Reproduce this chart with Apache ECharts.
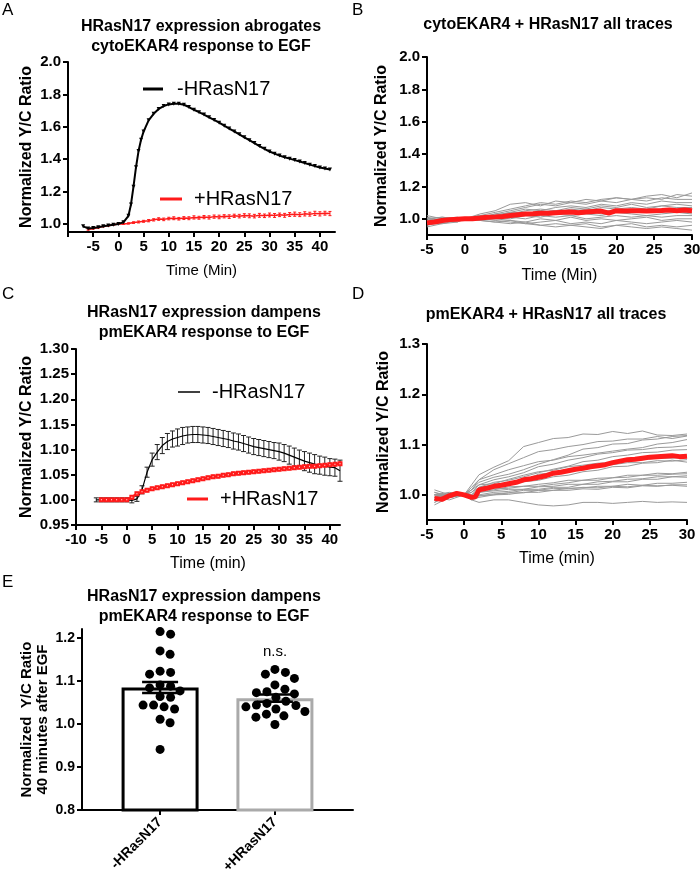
<!DOCTYPE html>
<html>
<head>
<meta charset="utf-8">
<script src="https://cdn.jsdelivr.net/npm/echarts@6/dist/echarts.min.js"></script>
<style>
  html, body { margin: 0; padding: 0; background: #fff; }
  #chart { width: 700px; height: 872px; }
</style>
</head>
<body>
<div id="chart"></div>
<script>
// ---- Panel A: cytoEKAR4 mean traces ----
const timeA_minus = [-7,-6,-5,-4,-3,-2,-1,0,1,2,2.5,3,3.5,4,4.5,5,6,7,8,9,10,11,12,13,14,15,16,17,18,19,20,21,22,23,24,25,26,27,28,29,30,31,32,33,34,35,36,37,38,39,40,41,42];
const ratioA_minus = [0.985,0.972,0.975,0.98,0.985,0.99,0.995,1.0,1.01,1.05,1.12,1.23,1.35,1.45,1.52,1.57,1.64,1.68,1.71,1.728,1.738,1.742,1.742,1.736,1.722,1.705,1.69,1.675,1.658,1.642,1.625,1.607,1.589,1.571,1.553,1.535,1.517,1.499,1.481,1.464,1.447,1.434,1.422,1.412,1.403,1.394,1.385,1.376,1.366,1.357,1.348,1.342,1.336];
const timeA_plus = [-6,-5,-4,-3,-2,-1,0,1,2,3,4,5,6,7,8,9,10,11,12,13,14,15,16,17,18,19,20,21,22,23,24,25,26,27,28,29,30,31,32,33,34,35,36,37,38,39,40,41,42];
const ratioA_plus = [0.965,0.972,0.978,0.985,0.99,0.995,1.0,1.0,1.003,1.008,1.012,1.016,1.02,1.025,1.03,1.028,1.033,1.035,1.032,1.036,1.035,1.04,1.038,1.042,1.04,1.045,1.043,1.047,1.045,1.05,1.048,1.052,1.05,1.048,1.053,1.05,1.055,1.052,1.056,1.053,1.058,1.06,1.057,1.062,1.06,1.065,1.062,1.066,1.064];
const semA_plus = [0.004,0.005,0.005,0.004,0.004,0.003,0.002,0.003,0.004,0.005,0.006,0.006,0.007,0.007,0.008,0.008,0.008,0.009,0.008,0.009,0.009,0.01,0.009,0.01,0.01,0.01,0.011,0.01,0.011,0.01,0.011,0.011,0.012,0.011,0.012,0.011,0.012,0.012,0.011,0.012,0.012,0.013,0.012,0.013,0.012,0.013,0.013,0.012,0.013];

// ---- Panel B: cytoEKAR4 + HRasN17 single cells ----
const timeB = [-5,-3,-1,0,2,4,6,8,10,12,14,16,18,20,22,24,26,28,30];
const tracesB = [
  [1.0,1.01,1.0,1.0,1.02,1.04,1.06,1.08,1.10,1.09,1.11,1.10,1.12,1.13,1.12,1.14,1.15,1.13,1.16],
  [0.99,1.0,1.01,1.0,1.03,1.05,1.09,1.10,1.08,1.11,1.10,1.12,1.11,1.13,1.12,1.13,1.12,1.15,1.14],
  [1.02,1.0,1.0,1.0,1.01,1.03,1.05,1.07,1.09,1.08,1.10,1.09,1.11,1.10,1.12,1.11,1.13,1.12,1.12],
  [0.97,0.99,1.0,1.0,1.02,1.02,1.04,1.06,1.05,1.07,1.08,1.07,1.09,1.08,1.10,1.09,1.11,1.10,1.10],
  [0.98,1.0,0.99,1.0,1.0,1.03,1.03,1.05,1.06,1.05,1.07,1.06,1.08,1.07,1.09,1.07,1.08,1.09,1.08],
  [1.01,0.99,1.0,1.0,1.01,1.02,1.04,1.03,1.05,1.04,1.06,1.05,1.07,1.06,1.07,1.06,1.08,1.07,1.07],
  [0.96,0.98,0.99,1.0,1.0,1.01,1.03,1.04,1.03,1.05,1.04,1.06,1.05,1.05,1.06,1.05,1.06,1.06,1.05],
  [0.99,1.0,1.0,1.0,1.02,1.01,1.02,1.03,1.04,1.03,1.04,1.05,1.03,1.04,1.05,1.04,1.05,1.04,1.04],
  [1.0,0.98,1.0,1.0,1.0,1.01,1.0,1.02,1.01,1.03,1.02,1.03,1.02,1.04,1.03,1.02,1.03,1.04,1.03],
  [0.97,0.99,0.98,1.0,1.01,1.0,1.01,1.0,1.02,1.01,1.02,1.0,1.01,1.02,1.01,1.02,1.01,1.02,1.02],
  [0.98,0.97,0.99,1.0,0.99,1.0,0.99,0.98,1.0,0.99,1.01,0.99,1.0,0.99,1.0,1.01,0.99,1.0,1.0],
  [0.95,0.97,0.98,1.0,0.99,0.98,0.99,0.97,0.98,0.99,0.97,0.98,0.97,0.99,0.98,0.97,0.98,0.99,0.98],
  [1.0,1.01,1.0,1.0,0.99,0.98,0.97,0.98,0.96,0.97,0.96,0.97,0.95,0.96,0.97,0.95,0.96,0.95,0.96],
  [0.99,0.98,0.99,1.0,1.0,0.99,0.98,0.97,0.96,0.95,0.96,0.95,0.94,0.96,0.95,0.94,0.95,0.94,0.93]
];
const timeB_mean = [-5,-4,-3,-2,-1,0,1,2,3,4,5,6,7,8,9,10,11,12,13,14,15,16,17,18,19,20,21,22,23,24,25,26,27,28,29,30];
const ratioB_mean = [0.975,0.98,0.99,0.995,0.998,1.0,1.0,1.005,1.01,1.012,1.015,1.02,1.025,1.03,1.032,1.035,1.035,1.038,1.04,1.042,1.038,1.042,1.045,1.048,1.035,1.05,1.048,1.05,1.05,1.048,1.05,1.052,1.055,1.05,1.055,1.05];

// ---- Panel C: pmEKAR4 mean traces ----
const timeC_minus = [-6,-5,-4,-3,-2,-1,0,1,2,3,4,5,6,7,8,9,10,11,12,13,14,15,16,17,18,19,20,21,22,23,24,25,26,27,28,29,30,31,32,33,34,35,36,37,38,39,40,41,42];
const ratioC_minus = [1.0,1.0,1.0,1.0,1.0,1.0,1.0,0.999,1.002,1.02,1.055,1.08,1.095,1.108,1.116,1.121,1.124,1.127,1.129,1.13,1.13,1.129,1.128,1.126,1.124,1.122,1.12,1.117,1.115,1.112,1.109,1.106,1.104,1.102,1.1,1.098,1.096,1.093,1.089,1.085,1.081,1.077,1.074,1.071,1.069,1.067,1.065,1.064,1.058];
const semC_minus = [0.004,0.004,0.004,0.004,0.004,0.004,0.004,0.005,0.005,0.008,0.01,0.013,0.015,0.016,0.016,0.016,0.017,0.017,0.016,0.016,0.016,0.016,0.016,0.016,0.016,0.016,0.016,0.016,0.016,0.016,0.016,0.016,0.016,0.016,0.016,0.016,0.017,0.017,0.018,0.018,0.018,0.019,0.019,0.019,0.018,0.018,0.017,0.017,0.021];
const timeC_plus = [-5,-4,-3,-2,-1,0,1,2,3,4,5,6,7,8,9,10,11,12,13,14,15,16,17,18,19,20,21,22,23,24,25,26,27,28,29,30,31,32,33,34,35,36,37,38,39,40,41,42];
const ratioC_plus = [1.0,1.0,1.0,1.0,1.0,1.0,1.005,1.012,1.016,1.019,1.022,1.024,1.026,1.028,1.03,1.032,1.034,1.036,1.038,1.04,1.042,1.044,1.046,1.047,1.049,1.05,1.052,1.053,1.054,1.055,1.056,1.057,1.058,1.059,1.06,1.061,1.062,1.063,1.064,1.065,1.066,1.067,1.067,1.068,1.069,1.07,1.071,1.072];
const semC_plus = [0.002,0.002,0.002,0.002,0.002,0.002,0.003,0.003,0.003,0.003,0.003,0.003,0.003,0.003,0.003,0.003,0.003,0.003,0.003,0.003,0.003,0.003,0.003,0.003,0.003,0.003,0.003,0.003,0.003,0.003,0.003,0.003,0.003,0.003,0.003,0.003,0.003,0.003,0.003,0.003,0.003,0.003,0.003,0.003,0.003,0.003,0.003,0.003];

// ---- Panel D: pmEKAR4 + HRasN17 single cells ----
const timeD = [-4,-2,0,1,2,4,6,8,10,12,14,16,18,20,22,24,26,28,30];
const tracesD = [
  [1.005,0.998,1.0,1.02,1.04,1.055,1.068,1.096,1.104,1.112,1.114,1.121,1.12,1.126,1.122,1.127,1.119,1.118,1.121],
  [0.99,1.003,1.0,1.015,1.03,1.05,1.062,1.074,1.086,1.09,1.096,1.1,1.106,1.107,1.111,1.111,1.116,1.112,1.117],
  [1.0,0.995,1.0,1.01,1.025,1.035,1.041,1.05,1.061,1.07,1.079,1.091,1.094,1.101,1.102,1.109,1.111,1.116,1.118],
  [0.985,1.0,1.0,1.005,1.02,1.03,1.036,1.044,1.056,1.061,1.069,1.074,1.081,1.084,1.089,1.09,1.094,1.095,1.098],
  [1.01,1.0,1.0,1.0,1.015,1.025,1.029,1.036,1.044,1.051,1.057,1.066,1.069,1.076,1.079,1.084,1.085,1.089,1.09],
  [0.995,0.99,1.0,1.01,1.02,1.022,1.031,1.039,1.046,1.049,1.056,1.059,1.063,1.064,1.069,1.07,1.073,1.073,1.075],
  [0.98,0.995,1.0,0.995,1.01,1.015,1.021,1.029,1.041,1.044,1.051,1.054,1.059,1.06,1.064,1.064,1.068,1.067,1.07],
  [1.0,1.005,1.0,1.005,1.015,1.02,1.021,1.026,1.029,1.036,1.039,1.046,1.049,1.056,1.057,1.063,1.064,1.069,1.065],
  [0.99,1.0,1.0,0.995,1.005,1.01,1.016,1.017,1.021,1.024,1.029,1.029,1.033,1.034,1.039,1.039,1.043,1.042,1.045],
  [1.005,0.995,1.0,1.0,1.01,1.012,1.013,1.017,1.017,1.021,1.024,1.029,1.029,1.034,1.035,1.039,1.039,1.041,1.042],
  [0.995,1.003,1.0,0.998,1.005,1.008,1.011,1.011,1.016,1.017,1.021,1.021,1.026,1.027,1.031,1.032,1.036,1.036,1.038],
  [1.0,0.998,1.0,0.997,1.0,1.005,1.007,1.011,1.011,1.015,1.015,1.021,1.021,1.026,1.026,1.031,1.031,1.036,1.035],
  [0.99,1.0,1.0,0.995,0.998,1.0,1.004,1.004,1.009,1.009,1.013,1.014,1.017,1.017,1.021,1.019,1.023,1.023,1.025],
  [1.0,1.002,1.0,0.99,0.995,1.0,1.001,1.005,1.005,1.009,1.009,1.012,1.011,1.015,1.014,1.018,1.017,1.02,1.02],
  [0.995,0.998,1.0,0.995,0.998,1.002,1.004,1.009,1.009,1.013,1.012,1.015,1.014,1.017,1.016,1.019,1.018,1.019,1.017],
  [1.0,0.995,1.0,0.99,0.985,0.99,0.99,0.985,0.98,0.978,0.98,0.985,0.985,0.983,0.985,0.987,0.985,0.986,0.985],
  [0.985,1.0,1.0,1.01,1.03,1.04,1.05,1.058,1.066,1.069,1.076,1.079,1.083,1.087,1.091,1.094,1.101,1.104,1.11]
];
const timeD_mean = [-4,-3,-2,-1,0,1,1.5,2,3,4,5,6,7,8,9,10,11,12,13,14,15,16,17,18,19,20,21,22,23,24,25,26,27,28,29,30];
const ratioD_mean = [0.993,0.991,0.998,1.003,1.0,0.995,0.996,1.01,1.013,1.017,1.019,1.022,1.025,1.03,1.032,1.035,1.038,1.043,1.045,1.048,1.051,1.053,1.056,1.058,1.06,1.064,1.067,1.07,1.071,1.073,1.075,1.076,1.077,1.078,1.076,1.077];

// ---- Panel E: ratio 40 minutes after EGF ----
const groupsE = ['-HRasN17', '+HRasN17'];
const meanE = [1.085, 1.060];
const semE = [0.013, 0.0085];
const cellsE_minus = [1.215,1.209,1.162,1.170,1.120,1.116,1.123,1.088,1.091,1.084,1.077,1.064,1.062,1.044,1.035,1.040,1.044,1.011,1.003,0.941];
const cellsE_plus = [1.127,1.116,1.120,1.106,1.091,1.081,1.073,1.070,1.075,1.062,1.048,1.043,1.053,1.044,1.035,1.029,1.040,1.019,1.016,1.023,0.999];

const FONT = '"Liberation Sans", Arial, sans-serif';
const RED = '#ff1a1a';

function xy(ts, vs) { return ts.map((t, i) => [t, vs[i]]); }
function errData(ts, vs, es) { return ts.map((t, i) => [t, vs[i] - es[i], vs[i] + es[i]]); }

function errItem(capW, color, lw) {
  return function (params, api) {
    const x = api.value(0);
    const a = api.coord([x, api.value(1)]);
    const b = api.coord([x, api.value(2)]);
    const st = { stroke: color, lineWidth: lw };
    return {
      type: 'group',
      children: [
        { type: 'line', shape: { x1: a[0], y1: a[1], x2: b[0], y2: b[1] }, style: st },
        { type: 'line', shape: { x1: a[0] - capW / 2, y1: a[1], x2: a[0] + capW / 2, y2: a[1] }, style: st },
        { type: 'line', shape: { x1: b[0] - capW / 2, y1: b[1], x2: b[0] + capW / 2, y2: b[1] }, style: st }
      ]
    };
  };
}

function axis(o) {
  const ax = {
    type: 'value',
    gridIndex: o.grid,
    min: o.min,
    max: o.max,
    name: o.name,
    nameLocation: 'middle',
    nameGap: o.nameGap,
    nameTextStyle: { fontFamily: FONT, fontSize: o.nameSize || 16, color: '#000', fontWeight: o.nameBold ? 'bold' : 'normal', lineHeight: o.nameLH || 18 },
    axisLine: { show: true, onZero: false, lineStyle: { color: '#000', width: 2 } },
    axisTick: { show: true, length: 5, lineStyle: { color: '#000', width: 2 } },
    axisLabel: { fontFamily: FONT, fontSize: o.labelSize || 15, fontWeight: 'bold', color: '#000', margin: o.margin || 7, formatter: o.fmt },
    splitLine: { show: false }
  };
  if (o.interval) ax.interval = o.interval;
  if (o.ticks) ax.axisTick.customValues = o.ticks;
  if (o.labels) ax.axisLabel.customValues = o.labels;
  if (o.rotate) ax.axisLabel.rotate = o.rotate;
  return ax;
}

const f1 = v => v.toFixed(1);
const f2 = v => v.toFixed(2);

const grid = [
  { left: 68, top: 62, width: 267, height: 170, outerBoundsMode: 'none' },
  { left: 427, top: 57, width: 265, height: 178, outerBoundsMode: 'none' },
  { left: 76, top: 349, width: 264, height: 176, outerBoundsMode: 'none' },
  { left: 427, top: 344, width: 260, height: 176, outerBoundsMode: 'none' },
  { left: 82, top: 629, width: 271, height: 181, outerBoundsMode: 'none' }
];

const xAxis = [
  axis({ grid: 0, min: -10, max: 43, name: 'Time (Min)', nameGap: 30, nameSize: 15,
    ticks: [-10,-5,0,5,10,15,20,25,30,35,40], labels: [-5,0,5,10,15,20,25,30,35,40] }),
  axis({ grid: 1, min: -5, max: 30, interval: 5, name: 'Time (Min)', nameGap: 32 }),
  axis({ grid: 2, min: -10, max: 42, name: 'Time (min)', nameGap: 30,
    ticks: [-10,-5,0,5,10,15,20,25,30,35,40], labels: [-10,-5,0,5,10,15,20,25,30,35,40] }),
  axis({ grid: 3, min: -5, max: 30, interval: 5, name: 'Time (min)', nameGap: 30 }),
  axis({ grid: 4, min: -0.68, max: 1.68, ticks: [0, 1], labels: [0, 1], rotate: 45, labelSize: 14, margin: 10,
    fmt: v => groupsE[Math.round(v)] })
];

const yAxis = [
  axis({ grid: 0, min: 0.95, max: 2.0, name: 'Normalized Y/C Ratio', nameGap: 32, nameBold: true,
    ticks: [1.0,1.2,1.4,1.6,1.8,2.0], labels: [1.0,1.2,1.4,1.6,1.8,2.0], fmt: f1 }),
  axis({ grid: 1, min: 0.9, max: 2.0, name: 'Normalized Y/C Ratio', nameGap: 36, nameBold: true,
    ticks: [1.0,1.2,1.4,1.6,1.8,2.0], labels: [1.0,1.2,1.4,1.6,1.8,2.0], fmt: f1 }),
  axis({ grid: 2, min: 0.95, max: 1.30, name: 'Normalized Y/C Ratio', nameGap: 40, nameBold: true,
    ticks: [0.95,1.0,1.05,1.1,1.15,1.2,1.25,1.3], labels: [0.95,1.0,1.05,1.1,1.15,1.2,1.25,1.3], fmt: f2 }),
  axis({ grid: 3, min: 0.95, max: 1.3, name: 'Normalized Y/C Ratio', nameGap: 34, nameBold: true,
    ticks: [1.0,1.1,1.2,1.3], labels: [1.0,1.1,1.2,1.3], fmt: f1 }),
  axis({ grid: 4, min: 0.8, max: 1.221, name: 'Normalized  Y/C Ratio\n40 minutes after EGF', nameGap: 31,
    nameBold: true, nameSize: 15, nameLH: 16, labelSize: 14,
    ticks: [0.8,0.9,1.0,1.1,1.2], labels: [0.8,0.9,1.0,1.1,1.2], fmt: f1 })
];

const series = [];

// A
series.push({ type: 'custom', xAxisIndex: 0, yAxisIndex: 0, renderItem: errItem(3, RED, 1),
  encode: { x: 0, y: [1, 2] }, data: errData(timeA_plus, ratioA_plus, semA_plus), silent: true, z: 2 });
series.push({ type: 'line', name: '+HRasN17', xAxisIndex: 0, yAxisIndex: 0, data: xy(timeA_plus, ratioA_plus),
  symbol: 'none', lineStyle: { color: RED, width: 1.5 }, itemStyle: { color: RED }, z: 3 });
series.push({ type: 'line', name: '-HRasN17', xAxisIndex: 0, yAxisIndex: 0, data: xy(timeA_minus, ratioA_minus),
  symbol: 'triangle', symbolRotate: 180, symbolSize: 4, lineStyle: { color: '#000', width: 2 }, itemStyle: { color: '#000' }, z: 4 });

// B
tracesB.forEach(tr => series.push({ type: 'line', xAxisIndex: 1, yAxisIndex: 1, data: xy(timeB, tr),
  symbol: 'none', silent: true, lineStyle: { color: '#9a9a9a', width: 1 }, z: 2 }));
series.push({ type: 'line', xAxisIndex: 1, yAxisIndex: 1, data: xy(timeB_mean, ratioB_mean),
  symbol: 'none', lineStyle: { color: RED, width: 5 }, z: 3 });

// C
series.push({ type: 'custom', xAxisIndex: 2, yAxisIndex: 2, renderItem: errItem(5, '#222', 1),
  encode: { x: 0, y: [1, 2] }, data: errData(timeC_minus, ratioC_minus, semC_minus), silent: true, z: 2 });
series.push({ type: 'line', xAxisIndex: 2, yAxisIndex: 2, data: xy(timeC_minus, ratioC_minus),
  symbol: 'none', lineStyle: { color: '#000', width: 1.2 }, z: 3 });
series.push({ type: 'custom', xAxisIndex: 2, yAxisIndex: 2, renderItem: errItem(3, RED, 1),
  encode: { x: 0, y: [1, 2] }, data: errData(timeC_plus, ratioC_plus, semC_plus), silent: true, z: 4 });
series.push({ type: 'line', xAxisIndex: 2, yAxisIndex: 2, data: xy(timeC_plus, ratioC_plus),
  symbol: 'emptyRect', symbolSize: 3, lineStyle: { color: RED, width: 2.5 }, itemStyle: { color: RED }, z: 5 });

// D
tracesD.forEach(tr => series.push({ type: 'line', xAxisIndex: 3, yAxisIndex: 3, data: xy(timeD, tr),
  symbol: 'none', silent: true, lineStyle: { color: '#9a9a9a', width: 1 }, z: 2 }));
series.push({ type: 'line', xAxisIndex: 3, yAxisIndex: 3, data: xy(timeD_mean, ratioD_mean),
  symbol: 'none', lineStyle: { color: RED, width: 5 }, z: 3 });

// E
series.push({ type: 'bar', xAxisIndex: 4, yAxisIndex: 4, barWidth: 77, z: 2,
  data: meanE.map((m, i) => ({ value: [i, m], itemStyle: { color: '#fff', borderColor: i ? '#aaaaaa' : '#000', borderWidth: 3 } })) });
series.push({ type: 'custom', xAxisIndex: 4, yAxisIndex: 4, renderItem: errItem(36, '#000', 2.5),
  encode: { x: 0, y: [1, 2] }, data: meanE.map((m, i) => [i, m - semE[i], m + semE[i]]), silent: true, z: 4 });

function panelTitle(x, y, text) {
  return { type: 'text', x: x, y: y, style: { text: text, textAlign: 'center', textVerticalAlign: 'middle',
    font: 'bold 16px ' + FONT, fill: '#000', lineHeight: 20 } };
}
function letter(x, y, t) {
  return { type: 'text', x: x, y: y, style: { text: t, font: '17px ' + FONT, fill: '#000' } };
}
function legendItem(x1, x2, y, color, lw, tx, text) {
  return [
    { type: 'line', shape: { x1: x1, y1: y, x2: x2, y2: y }, style: { stroke: color, lineWidth: lw } },
    { type: 'text', x: tx, y: y, style: { text: text, textVerticalAlign: 'middle', font: '20px ' + FONT, fill: '#000' } }
  ];
}

const graphic = [
  letter(2, 2, 'A'), letter(352, 2, 'B'), letter(2, 286, 'C'), letter(352, 286, 'D'), letter(2, 574, 'E'),
  panelTitle(201, 37, 'HRasN17 expression abrogates\ncytoEKAR4 response to EGF'),
  panelTitle(548, 25, 'cytoEKAR4 + HRasN17 all traces'),
  panelTitle(204, 323, 'HRasN17 expression dampens\npmEKAR4 response to EGF'),
  panelTitle(546, 315, 'pmEKAR4 + HRasN17 all traces'),
  panelTitle(204, 607, 'HRasN17 expression dampens\npmEKAR4 response to EGF'),
  ...legendItem(143, 163, 89, '#000', 3, 177, '-HRasN17'),
  ...legendItem(160, 182, 199, RED, 3, 194, '+HRasN17'),
  ...legendItem(178, 200, 392, '#000', 1.5, 212, '-HRasN17'),
  ...legendItem(187, 208, 499, RED, 3, 220, '+HRasN17'),
  { type: 'text', x: 275, y: 652, style: { text: 'n.s.', textAlign: 'center', textVerticalAlign: 'middle', font: '15px ' + FONT, fill: '#000' } }
];

const chart = echarts.init(document.getElementById('chart'), null, { renderer: 'canvas' });
chart.setOption({
  animation: false,
  backgroundColor: '#fff',
  textStyle: { fontFamily: FONT },
  grid: grid,
  xAxis: xAxis,
  yAxis: yAxis,
  series: series,
  graphic: graphic
});

// scatter dots for E, spread sideways so they do not overlap (beeswarm)
const p0 = chart.convertToPixel({ gridIndex: 4 }, [0, 1.0]);
const p1 = chart.convertToPixel({ gridIndex: 4 }, [1, 1.1]);
const pxPerX = p1[0] - p0[0];
const pxPerY = (p0[1] - p1[1]) / 0.1;
const dotGap = 10.5;

function swarm(values, center) {
  const placed = [];
  return values.slice().sort((a, b) => b - a).map(v => {
    const py = v * pxPerY;
    let off = 0;
    for (let k = 0; k < 400; k++) {
      const cand = k === 0 ? 0 : (k % 2 ? 1 : -1) * Math.ceil(k / 2) * 0.5;
      if (placed.every(p => Math.hypot(p[0] - cand, p[1] - py) >= dotGap)) { off = cand; break; }
    }
    placed.push([off, py]);
    return [center + off / pxPerX, v];
  });
}

series.push({ type: 'scatter', xAxisIndex: 4, yAxisIndex: 4, symbolSize: 9, z: 5,
  itemStyle: { color: '#000', opacity: 1 }, data: swarm(cellsE_minus, 0).concat(swarm(cellsE_plus, 1)) });
chart.setOption({ series: series });
</script>
</body>
</html>
